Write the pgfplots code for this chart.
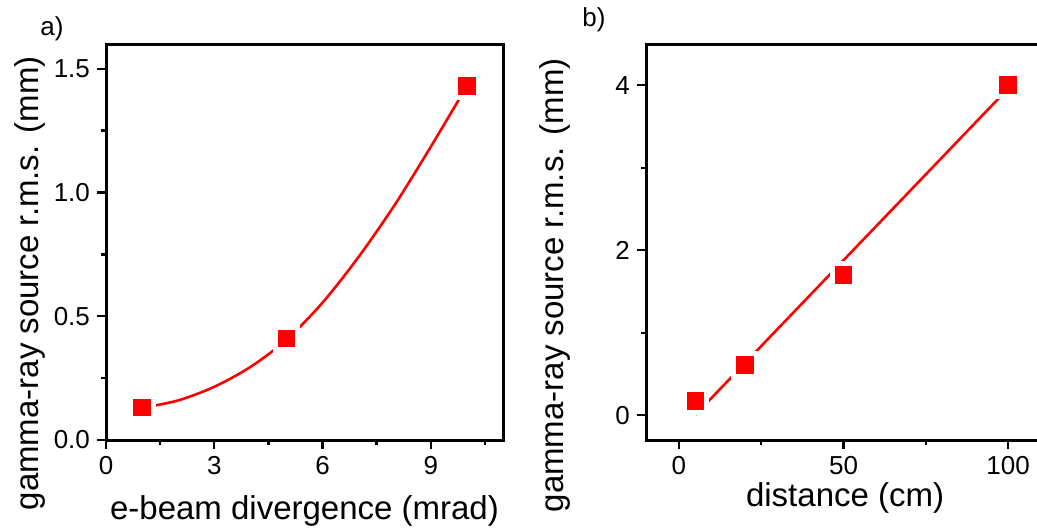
\documentclass[border=0pt]{standalone}
\usepackage{fontspec}
\setmainfont{Liberation Sans}
\usepackage{pgfplots}
\pgfplotsset{compat=1.18}
\pgfplotsset{
  mystyle/.style={
    scale only axis,
    axis line style={line width=1.5pt},
    tick style={line width=1.2pt, black},
    tick align=outside,
    xtick pos=left, ytick pos=left,
    major tick length=4.5pt, minor tick length=2.5pt,
    ticklabel style={font=\fontsize{13}{15}\selectfont},
    /pgf/number format/assume math mode=true,
    label style={font=\fontsize{16.5}{19}\selectfont},
    clip=false,
  }
}
\begin{document}
\begin{tikzpicture}
\useasboundingbox (0,0) rectangle (518.5pt,263.5pt);
\begin{axis}[mystyle,
  at={(53pt,43.5pt)}, anchor=south west,
  width=198.5pt, height=198pt,
  xmin=0, xmax=11, ymin=0, ymax=1.6,
  xtick={0,3,6,9}, ytick={0,0.5,1,1.5},
  minor xtick={1.5,4.5,7.5,10.5}, minor ytick={0.25,0.75,1.25},
  yticklabel style={/pgf/number format/.cd, fixed, fixed zerofill, precision=1},
  xlabel={e-beam divergence (mrad)},
  ylabel={gamma-ray source r.m.s. (mm)},
  xlabel style={at={(axis description cs:0.5,-0.179)}, anchor=center},
  ylabel style={at={(axis description cs:-0.191,0.396)}, anchor=center},
]
\addplot[red, line width=1.3pt, smooth, no marks] coordinates {
  (1,0.13) (2,0.16) (3,0.215) (4,0.295) (5,0.405)
  (6,0.555) (7,0.74) (8,0.95) (9,1.185) (10,1.43)};
\addplot[only marks, mark=square*, mark size=5.65pt,
  mark options={fill=red, draw=white, line width=2.5pt}] coordinates {
  (1,0.132) (5,0.41) (10,1.43)};
\end{axis}
\begin{axis}[mystyle,
  at={(323pt,43.5pt)}, anchor=south west,
  width=197.5pt, height=198pt,
  xmin=-10, xmax=110, ymin=-0.3, ymax=4.5,
  xtick={0,50,100}, ytick={0,2,4},
  minor xtick={25,75}, minor ytick={1,3},
  xlabel={distance (cm)},
  ylabel={gamma-ray source r.m.s. (mm)},
  xlabel style={at={(axis description cs:0.504,-0.146)}, anchor=center},
  ylabel style={at={(axis description cs:-0.230,0.391)}, anchor=center},
]
\addplot[red, line width=1.3pt, no marks] coordinates {(5,0.006) (100,3.96)};
\addplot[only marks, mark=square*, mark size=5.65pt,
  mark options={fill=red, draw=white, line width=2.5pt}] coordinates {
  (5,0.17) (20,0.61) (50,1.7) (100,4.0)};
\end{axis}
\node[font=\fontsize{13}{15}\selectfont] at (26pt,249pt) {a)};
\node[font=\fontsize{13}{15}\selectfont] at (297pt,253.5pt) {b)};
\end{tikzpicture}
\end{document}
